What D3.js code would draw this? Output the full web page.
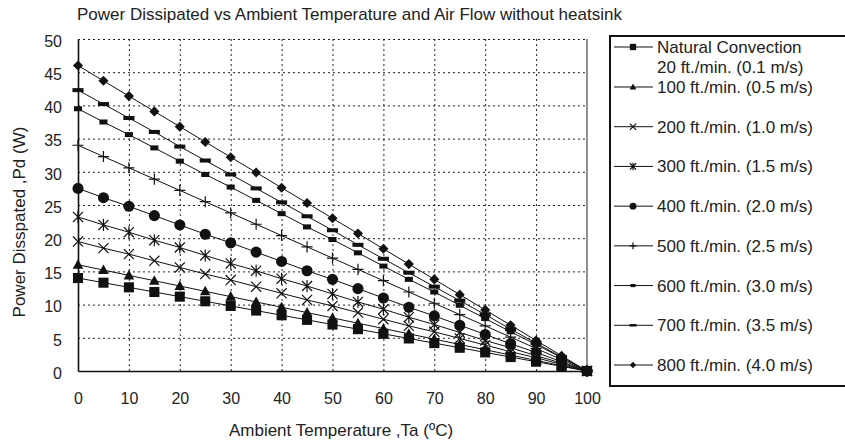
<!DOCTYPE html>
<html>
<head>
<meta charset="utf-8">
<script src="https://cdn.jsdelivr.net/npm/d3@7"></script>
<style>
  body { margin: 0; background: #fff; }
  text { font-family: "Liberation Sans", Arial, sans-serif; fill: #222; }
</style>
</head>
<body>
<div id="chart"></div>
<script>
// temperatures (x) and dissipated power (y) per air flow
var temps = [0,5,10,15,20,25,30,35,40,45,50,55,60,65,70,75,80,85,90,95,100];

var natural = [14.0,13.3,12.6,11.9,11.2,10.5,9.8,9.1,8.4,7.7,7.0,6.3,5.6,4.9,4.2,3.5,2.8,2.1,1.4,0.7,0];
var ft100 = [16.0,15.2,14.4,13.6,12.8,12.0,11.2,10.4,9.6,8.8,8.0,7.2,6.4,5.6,4.8,4.0,3.2,2.4,1.6,0.8,0];
var ft200 = [19.5,18.5,17.6,16.6,15.6,14.6,13.7,12.7,11.7,10.7,9.8,8.8,7.8,6.8,5.9,4.9,3.9,2.9,2.0,1.0,0];
var ft300 = [23.2,22.0,20.9,19.7,18.6,17.4,16.2,15.1,13.9,12.8,11.6,10.4,9.3,8.1,7.0,5.8,4.6,3.5,2.3,1.2,0];
var ft400 = [27.5,26.1,24.8,23.4,22.0,20.6,19.3,17.9,16.5,15.1,13.8,12.4,11.0,9.6,8.3,6.9,5.5,4.1,2.8,1.4,0];
var ft500 = [34.0,32.3,30.6,28.9,27.2,25.5,23.8,22.1,20.4,18.7,17.0,15.3,13.6,11.9,10.2,8.5,6.8,5.1,3.4,1.7,0];
var ft600 = [39.5,37.5,35.6,33.6,31.6,29.6,27.7,25.7,23.7,21.7,19.8,17.8,15.8,13.8,11.9,9.9,7.9,5.9,4.0,2.0,0];
var ft700 = [42.3,40.2,38.1,36.0,33.8,31.7,29.6,27.5,25.4,23.3,21.2,19.0,16.9,14.8,12.7,10.6,8.5,6.3,4.2,2.1,0];
var ft800 = [46.0,43.7,41.4,39.1,36.8,34.5,32.2,29.9,27.6,25.3,23.0,20.7,18.4,16.1,13.8,11.5,9.2,6.9,4.6,2.3,0];

var seriesNames = [
  ["Natural Convection", "20 ft./min. (0.1 m/s)"],
  ["100 ft./min. (0.5 m/s)"],
  ["200 ft./min. (1.0 m/s)"],
  ["300 ft./min. (1.5 m/s)"],
  ["400 ft./min. (2.0 m/s)"],
  ["500 ft./min. (2.5 m/s)"],
  ["600 ft./min. (3.0 m/s)"],
  ["700 ft./min. (3.5 m/s)"],
  ["800 ft./min. (4.0 m/s)"]
];
var markerKinds = ["square","triangle","times","asterisk","circle","plus","dash","bar","diamond"];

var xTicks = [0,10,20,30,40,50,60,70,80,90,100];
var yTicks = [0,5,10,15,20,25,30,35,40,45,50];

var allSeries = [natural, ft100, ft200, ft300, ft400, ft500, ft600, ft700, ft800];

var WIDTH = 845, HEIGHT = 445;
var LEFT = 78, RIGHT = 587, TOP = 39, BOTTOM = 371;

var svg = d3.select("#chart").append("svg")
  .attr("width", WIDTH)
  .attr("height", HEIGHT);

var x = d3.scaleLinear().domain([0, 100]).range([LEFT, RIGHT]);
var y = d3.scaleLinear().domain([0, 50]).range([BOTTOM, TOP]);

// title
svg.append("text")
  .attr("x", 77)
  .attr("y", 20)
  .style("font-size", "17px")
  .text("Power Dissipated vs Ambient Temperature and Air Flow without heatsink");

// dotted grid
svg.append("g")
  .attr("transform", "translate(0," + BOTTOM + ")")
  .call(d3.axisBottom(x).tickValues(xTicks.slice(1, -1)).tickSize(-(BOTTOM - TOP)).tickFormat(""))
  .call(function(g){ g.select(".domain").remove(); })
  .selectAll("line")
  .attr("stroke", "#222")
  .attr("stroke-dasharray", "2,3");

svg.append("g")
  .attr("transform", "translate(" + LEFT + ",0)")
  .call(d3.axisLeft(y).tickValues(yTicks.slice(1)).tickSize(-(RIGHT - LEFT)).tickFormat(""))
  .call(function(g){ g.select(".domain").remove(); })
  .selectAll("line")
  .attr("stroke", "#222")
  .attr("stroke-dasharray", "2,3");

// right border
svg.append("line")
  .attr("x1", x(100)).attr("x2", x(100))
  .attr("y1", y(50)).attr("y2", y(0))
  .attr("stroke", "#222").attr("stroke-width", 1);

// axes
var xAxis = svg.append("g")
  .attr("transform", "translate(0," + BOTTOM + ")")
  .call(d3.axisBottom(x).tickValues(xTicks).tickSize(0).tickPadding(22));
xAxis.select(".domain").attr("stroke", "#111").attr("stroke-width", 1.6);
xAxis.selectAll("text").style("font-size", "16px").attr("fill", "#222");

var yAxis = svg.append("g")
  .attr("transform", "translate(" + LEFT + ",0)")
  .call(d3.axisLeft(y).tickValues(yTicks).tickSize(0).tickPadding(16));
yAxis.select(".domain").attr("stroke", "#111").attr("stroke-width", 1.6);
yAxis.selectAll("text").style("font-size", "16px").attr("fill", "#222").attr("dy", "0.45em");

// axis titles
svg.append("text")
  .attr("x", 341)
  .attr("y", 436)
  .style("text-anchor", "middle")
  .style("font-size", "17px")
  .text("Ambient Temperature ,Ta (ºC)");

svg.append("text")
  .attr("transform", "translate(25," + 222 + ") rotate(-90)")
  .style("text-anchor", "middle")
  .style("font-size", "17px")
  .text("Power Disspated ,Pd (W)");

// marker drawing
function drawMarker(g, kind, s) {
  var h = 4.5 * s;
  if (kind == "square") {
    g.append("rect").attr("x", -h).attr("y", -h).attr("width", 2*h).attr("height", 2*h).attr("fill", "#111");
  } else if (kind == "triangle") {
    g.append("path").attr("d", "M0," + (-h*1.1) + "L" + (h*1.05) + "," + (h*0.8) + "L" + (-h*1.05) + "," + (h*0.8) + "Z").attr("fill", "#111");
  } else if (kind == "circle") {
    g.append("circle").attr("r", h * 1.1).attr("fill", "#111");
  } else if (kind == "diamond") {
    g.append("path").attr("d", "M0," + (-h) + "L" + h + ",0L0," + h + "L" + (-h) + ",0Z").attr("fill", "#111");
  } else if (kind == "times") {
    g.append("path").attr("d", "M" + (-h) + "," + (-h) + "L" + h + "," + h + "M" + h + "," + (-h) + "L" + (-h) + "," + h)
      .attr("stroke", "#111").attr("stroke-width", 1.2).attr("fill", "none");
  } else if (kind == "asterisk") {
    g.append("path").attr("d", "M" + (-h) + "," + (-h) + "L" + h + "," + h + "M" + h + "," + (-h) + "L" + (-h) + "," + h + "M0," + (-h*1.2) + "L0," + (h*1.2))
      .attr("stroke", "#111").attr("stroke-width", 1.2).attr("fill", "none");
  } else if (kind == "plus") {
    g.append("path").attr("d", "M" + (-h*1.1) + ",0L" + (h*1.1) + ",0M0," + (-h*1.1) + "L0," + (h*1.1))
      .attr("stroke", "#111").attr("stroke-width", 1.2).attr("fill", "none");
  } else if (kind == "dash") {
    g.append("rect").attr("x", -h*0.8).attr("y", -h*0.5).attr("width", h*1.6).attr("height", h*1.0).attr("fill", "#111");
  } else if (kind == "bar") {
    g.append("rect").attr("x", -h*1.1).attr("y", -h*0.4).attr("width", h*2.2).attr("height", h*0.8).attr("fill", "#111");
  }
}

var line = d3.line()
  .x(function(d, i){ return x(temps[i]); })
  .y(function(d){ return y(d); });

allSeries.forEach(function(vals, k) {
  svg.append("path")
    .datum(vals)
    .attr("d", line)
    .attr("fill", "none")
    .attr("stroke", "#111")
    .attr("stroke-width", 1);
});

allSeries.forEach(function(vals, k) {
  vals.forEach(function(v, i) {
    var g = svg.append("g").attr("transform", "translate(" + x(temps[i]) + "," + y(v) + ")");
    drawMarker(g, markerKinds[k], 1.12);
  });
});

// legend (box runs off the right edge, as in the original)
svg.append("rect")
  .attr("x", 610).attr("y", 36)
  .attr("width", 250).attr("height", 350)
  .attr("fill", "none")
  .attr("stroke", "#111")
  .attr("stroke-width", 2);

var legendY = d3.scaleLinear().domain([1, 8]).range([87, 365]);

seriesNames.forEach(function(names, k) {
  var ly = k == 0 ? 47 : legendY(k);
  svg.append("line")
    .attr("x1", 614).attr("x2", 653)
    .attr("y1", ly).attr("y2", ly)
    .attr("stroke", "#111").attr("stroke-width", 1);
  var g = svg.append("g").attr("transform", "translate(633," + ly + ")");
  drawMarker(g, markerKinds[k], 0.7);
  names.forEach(function(n, j) {
    svg.append("text")
      .attr("x", 657)
      .attr("y", ly + j * 20)
      .attr("dy", "0.35em")
      .style("font-size", "17px")
      .text(n);
  });
});
</script>
</body>
</html>
